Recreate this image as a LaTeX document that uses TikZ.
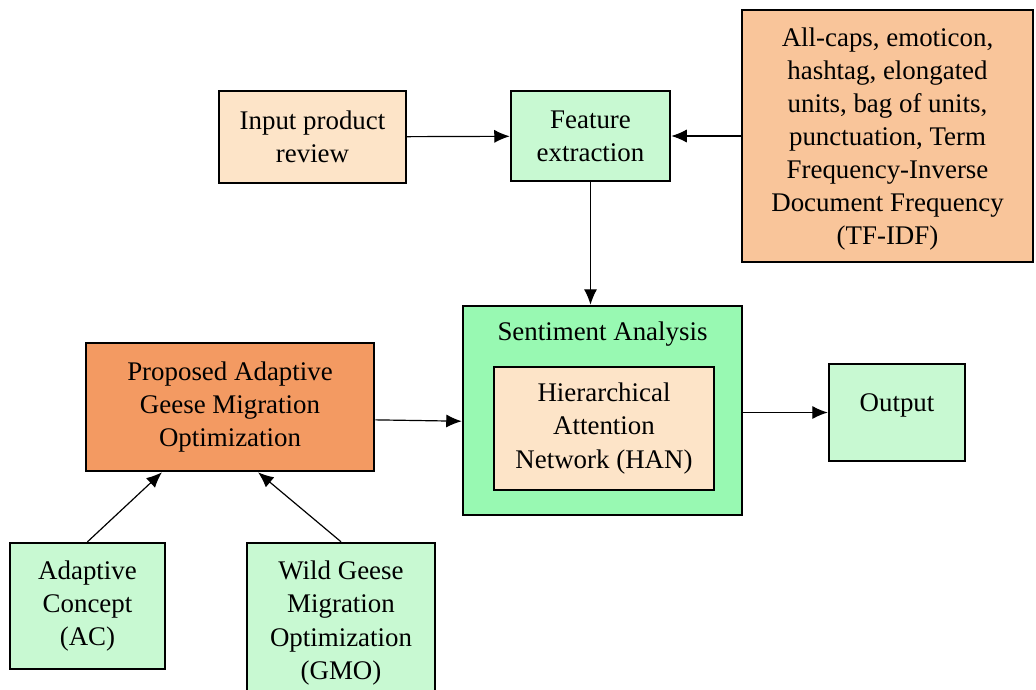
\documentclass[tikz,border=0pt]{standalone}
\usepackage{fontspec}
\setmainfont{Liberation Serif}
\usepackage{tikz}
\usetikzlibrary{arrows.meta}
\definecolor{mint}{HTML}{C8F9D2}
\definecolor{seagreen}{HTML}{98F9B2}
\definecolor{bisque}{HTML}{FDE4C8}
\definecolor{peach}{HTML}{F9C59A}
\definecolor{sandy}{HTML}{F39A62}

\begin{document}
\begin{tikzpicture}[
x=0.42pt, y=-0.42pt,
box/.style={draw, line width=1.05pt, align=center, inner sep=0pt,
  font=\fontsize{11.3}{13.9}\selectfont},
mintbox/.style={box, fill=mint},
bisquebox/.style={box, fill=bisque},
arr/.style={-{Latex[length=6.5pt,width=5.5pt]}, line width=0.5pt},
]
\useasboundingbox (0,0) rectangle (1036,689);

%Nodes
\node[bisquebox, minimum width=78.5pt, minimum height=38.6pt] (input) at (312.5,137) {Input product\\review};
\node[mintbox, minimum width=66.8pt, minimum height=37.8pt] (feat) at (590.5,136) {Feature\\extraction};
\node[box, fill=peach, minimum width=122.2pt, minimum height=105.8pt, text depth=0pt] (cues) at (887.5,136)
  {All-caps, emoticon,\\hashtag, elongated\\units, bag of units,\\punctuation, Term\\Frequency-Inverse\\Document Frequency\\(TF-IDF)};
\node[box, fill=seagreen, minimum width=117.2pt, minimum height=87.8pt] (sent) at (602.5,410.5) {};
\node[font=\fontsize{11.3}{13.9}\selectfont] (senttitle) at (602.5,334) {Sentiment Analysis};
\node[bisquebox, minimum width=92.4pt, minimum height=51.7pt] (han) at (604,428.5) {Hierarchical\\Attention\\Network (HAN)};
\node[mintbox, minimum width=57.1pt, minimum height=40.7pt, text depth=8.6pt] (out) at (897,412.5) {Output};
\node[box, fill=sandy, minimum width=121pt, minimum height=53.8pt] (agmo) at (230,407) {Proposed Adaptive\\Geese Migration\\Optimization};
\node[mintbox, minimum width=65.1pt, minimum height=52.9pt] (ac) at (87.5,606) {Adaptive\\Concept\\(AC)};
\node[mintbox, minimum width=79pt, minimum height=67.2pt] (gmo) at (341,623) {Wild Geese\\Migration\\Optimization\\(GMO)};

%Lines
\draw[arr] (input) -- (feat);
\draw[arr] (cues.west |- feat) -- (feat);
\draw[arr] (feat.south) -- (feat.south |- sent.north);
\draw[arr] ([yshift=-5.4pt]agmo.east) -- ([yshift=-4.5pt]sent.west);
\draw[arr] (sent.east |- out) -- (out);
\draw[arr] (ac.north) -- ([xshift=-28.6pt]agmo.south);
\draw[arr] (gmo.north) -- ([xshift=11.8pt]agmo.south);
\end{tikzpicture}
\end{document}
